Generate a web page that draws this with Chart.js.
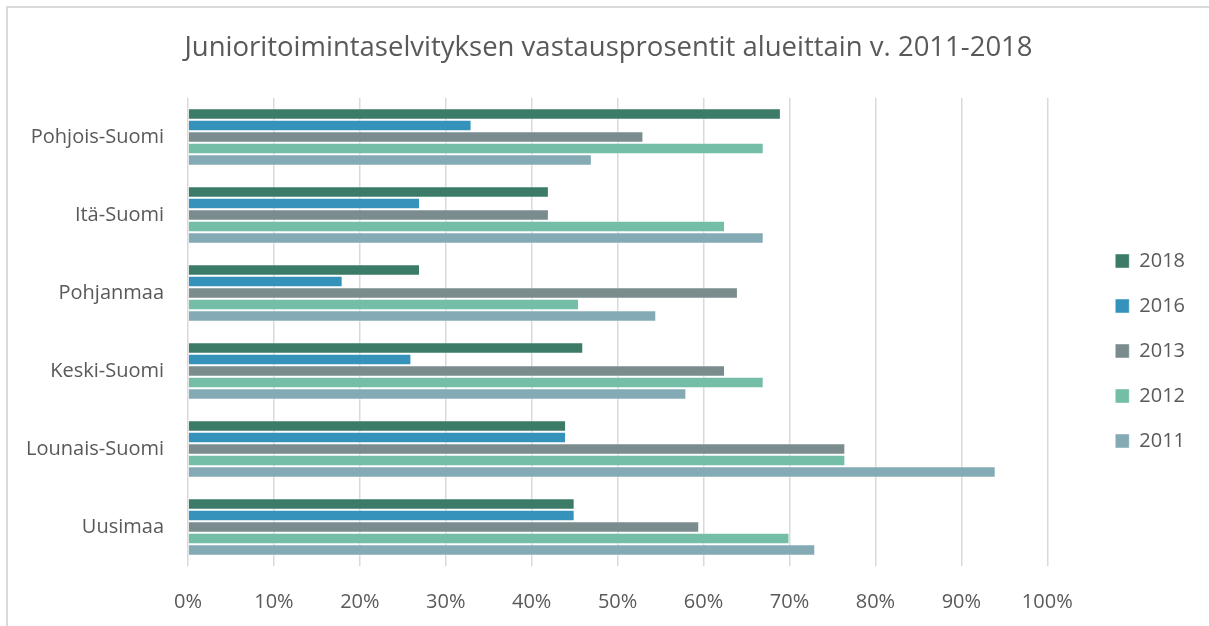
<!DOCTYPE html>
<html>
<head>
<meta charset="utf-8">
<script src="https://cdn.jsdelivr.net/npm/chart.js@4.4.0/dist/chart.umd.min.js"></script>
<style>
    html, body { margin: 0; padding: 0; overflow: hidden; background: #fff; }
    #frame { position: absolute; left: 6px; top: 6px; width: 1300px; height: 700px;
             border-left: 2px solid #d9d9d9; border-top: 2px solid #d9d9d9; }
    #wrap { position: absolute; left: 0; top: 0; width: 1209px; height: 626px; }
</style>
</head>
<body>
<div id="frame"></div>
<div id="wrap"><canvas id="chart"></canvas></div>
<script>
const regions = ['Pohjois-Suomi', 'Itä-Suomi', 'Pohjanmaa', 'Keski-Suomi', 'Lounais-Suomi', 'Uusimaa'];
const years = ['2018', '2016', '2013', '2012', '2011'];
const colors = ['#3b7b67', '#3593bb', '#7a8c8e', '#74bda6', '#84aab5'];

// vastausprosentit (%) alueittain, järjestys kuten regions
const v2018 = [69, 42, 27, 46, 44, 45];
const v2016 = [33, 27, 18, 26, 44, 45];
const v2013 = [53, 42, 64, 62.5, 76.5, 59.5];
const v2012 = [67, 62.5, 45.5, 67, 76.5, 70];
const v2011 = [47, 67, 54.5, 58, 94, 73];

const xTicks = [0, 10, 20, 30, 40, 50, 60, 70, 80, 90, 100];

const series = [v2018, v2016, v2013, v2012, v2011];
const font = '"Open Sans", "Noto Sans", sans-serif';

// legend needs more room on its left than chart.js gives it
const LEGEND_GAP = 43;
const LEGEND_DY = 22;
const legendGap = {
    id: 'legendGap',
    beforeUpdate(chart) {
        const lg = chart.legend;
        if (!lg || lg._gapped) return;
        lg._gapped = true;
        const fit = lg.fit;
        const draw = lg.draw;
        lg.fit = function () { fit.call(this); this.width += LEGEND_GAP; };
        lg.draw = function () {
            this.left += LEGEND_GAP; this.right += LEGEND_GAP;
            this.top += LEGEND_DY; this.bottom += LEGEND_DY;
            draw.call(this);
            this.left -= LEGEND_GAP; this.right -= LEGEND_GAP;
            this.top -= LEGEND_DY; this.bottom -= LEGEND_DY;
        };
    }
};

new Chart(document.getElementById('chart'), {
    type: 'bar',
    data: {
        labels: regions,
        datasets: series.map((s, i) => ({
            label: years[i],
            data: s,
            backgroundColor: colors[i],
            borderColor: 'rgba(255,255,255,0.45)',
            borderWidth: 1,
            barPercentage: 1,
            categoryPercentage: 0.74
        }))
    },
    plugins: [legendGap],
    options: {
        indexAxis: 'y',
        responsive: true,
        maintainAspectRatio: false,
        animation: false,
        layout: { padding: { left: 22, right: 14, top: 32, bottom: 0 } },
        plugins: {
            title: {
                display: true,
                text: 'Junioritoimintaselvityksen vastausprosentit alueittain v. 2011-2018',
                color: '#595959',
                font: { family: font, size: 27.5, weight: 'normal' },
                padding: { top: 0, bottom: 33 }
            },
            legend: {
                position: 'right',
                labels: {
                    color: '#595959',
                    font: { family: font, size: 20 },
                    boxWidth: 14,
                    boxHeight: 14,
                    padding: 25
                }
            },
            tooltip: { enabled: false }
        },
        scales: {
            x: {
                min: 0,
                max: 100,
                afterBuildTicks: axis => { axis.ticks = xTicks.map(v => ({ value: v })); },
                afterFit: axis => { axis.height = 60; },
                ticks: {
                    color: '#595959',
                    font: { family: font, size: 20 },
                    padding: 24,
                    callback: v => v + '%'
                },
                grid: { color: '#d9d9d9', lineWidth: 1.5, drawTicks: false },
                border: { display: false }
            },
            y: {
                afterFit: axis => { axis.width = 166; },
                ticks: {
                    color: '#595959',
                    font: { family: font, size: 20 },
                    padding: 24
                },
                grid: { display: false, drawTicks: false },
                border: { display: false }
            }
        }
    }
});
</script>
</body>
</html>
